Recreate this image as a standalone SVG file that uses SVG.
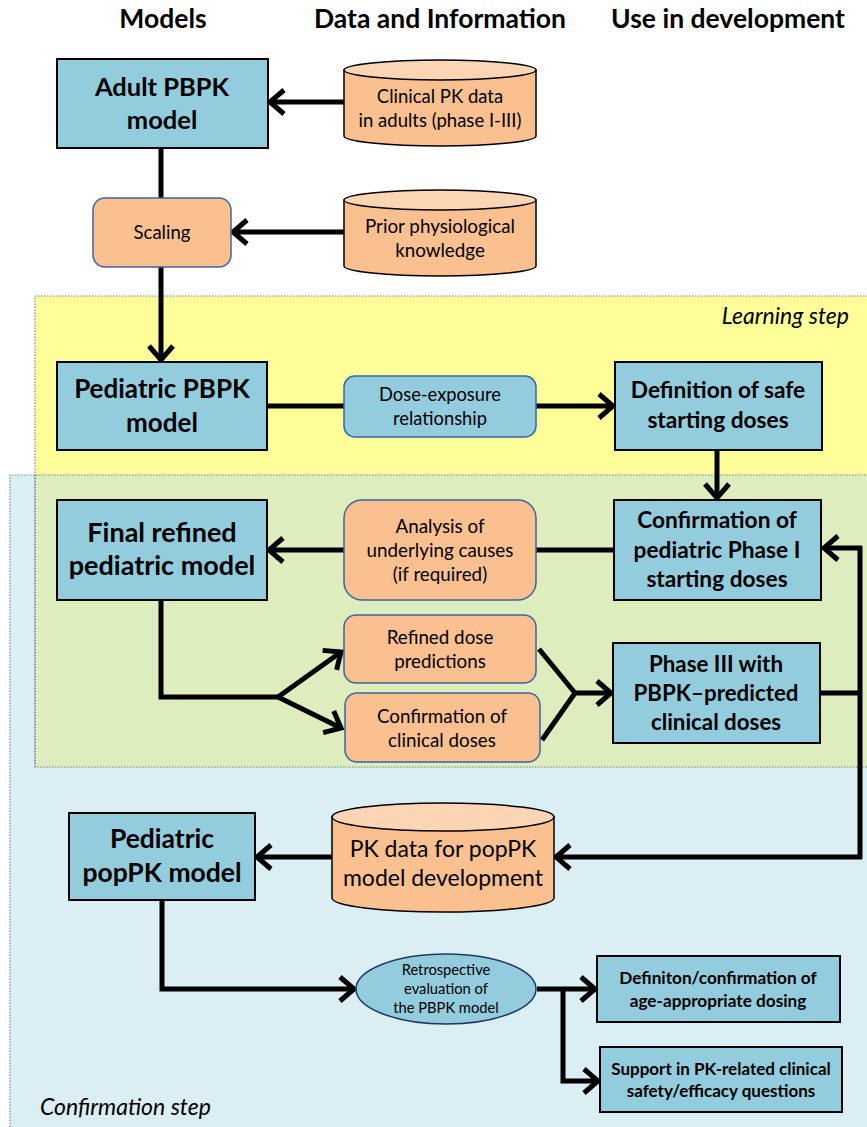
<svg xmlns="http://www.w3.org/2000/svg" width="867" height="1127" viewBox="0 0 867 1127">
<defs>
<style>
.hdr{font-family:Lato,"Liberation Sans",sans-serif;font-weight:bold;font-size:26.5px;fill:#000;text-anchor:middle}
.box{fill:#93cddd;stroke:#000;stroke-width:2}
.rb{fill:#93cddd;stroke:#3b64a0;stroke-width:1.5}
.ro{fill:#fac090;stroke:#3b64a0;stroke-width:1.5}
.cyl{fill:#fac090;stroke:#000;stroke-width:1.5}
.cyt{fill:#fcd5b5;stroke:#000;stroke-width:1.5}
.bt{font-family:Lato,"Liberation Sans",sans-serif;font-weight:bold;fill:#000;text-anchor:middle}
.nt{font-family:Lato,"Liberation Sans",sans-serif;fill:#000;text-anchor:middle}
.it{font-family:Lato,"Liberation Sans",sans-serif;font-style:italic;font-size:23px;fill:#000}
.c{fill:none;stroke:#000;stroke-width:5}
.ca{fill:none;stroke:#000;stroke-width:5;marker-end:url(#ah)}
</style>
<marker id="ah" markerUnits="userSpaceOnUse" viewBox="0 0 24 30" markerWidth="24" markerHeight="30" refX="20" refY="15" orient="auto">
<path d="M6,3 L20,15 L6,27" fill="none" stroke="#000" stroke-width="5"/>
</marker>
</defs>

<g id="regions">
<rect x="35" y="296" width="832" height="179" fill="#ffff99"/>
<rect x="10" y="475" width="857" height="652" fill="#dbeef3"/>
<rect x="35" y="475" width="832" height="293" fill="#ddedbe"/>
<path d="M35,767 V296 H867" fill="none" stroke="#6f88a8" stroke-width="1.2" stroke-dasharray="1.5,1.5"/>
<path d="M10,1127 V475 H867" fill="none" stroke="#6f88a8" stroke-width="1.2" stroke-dasharray="1.5,1.5"/>
<path d="M35,475 V767 H867" fill="none" stroke="#6f88a8" stroke-width="1.2" stroke-dasharray="1.5,1.5"/>
<text class="it" x="849" y="324" text-anchor="end">Learning step</text>
<text class="it" x="40" y="1115">Confirmation step</text>
</g>

<g id="headers">
<text class="hdr" x="163" y="28">Models</text>
<text class="hdr" x="440" y="28">Data and Information</text>
<text class="hdr" x="728" y="28">Use in development</text>
</g>

<g id="connectors">
<line class="ca" x1="344" y1="102" x2="270" y2="102"/>
<line class="c" x1="161" y1="148" x2="161" y2="198"/>
<line class="ca" x1="344" y1="232" x2="233" y2="232"/>
<line class="ca" x1="161" y1="267" x2="161" y2="360"/>
<line class="c" x1="267" y1="406" x2="344" y2="406" stroke-width="7"/>
<line class="ca" x1="536" y1="406" x2="613" y2="406" stroke-width="6"/>
<line class="ca" x1="717" y1="450" x2="717" y2="498"/>
<line class="c" x1="614" y1="550" x2="536" y2="550" stroke-width="7"/>
<line class="ca" x1="344" y1="550" x2="269" y2="550"/>
<polyline class="c" points="161,600 161,697 280,697"/>
<line class="ca" x1="278" y1="697" x2="341" y2="652"/>
<line class="ca" x1="278" y1="697" x2="341" y2="728"/>
<polyline class="c" points="539,649 575,693 542,740"/>
<line class="ca" x1="575" y1="693" x2="611" y2="693"/>
<line class="c" x1="820" y1="693" x2="860" y2="693"/>
<line class="c" x1="860" y1="546" x2="860" y2="859"/>
<line class="ca" x1="862" y1="548" x2="824" y2="548"/>
<line class="ca" x1="862" y1="857" x2="556" y2="857"/>
<line class="ca" x1="332" y1="857" x2="257" y2="857"/>
<polyline class="ca" points="162,900 162,989 354,989"/>
<line class="ca" x1="537" y1="989" x2="595" y2="989"/>
<polyline class="ca" points="563,989 563,1081 598,1081"/>
</g>

<g id="adult">
<rect class="box" x="57" y="59" width="211" height="89"/>
<text class="bt" font-size="25.5" x="162" y="96">Adult PBPK</text>
<text class="bt" font-size="25.5" x="162" y="129">model</text>
</g>

<g id="clinical-pk">
<path class="cyl" d="M344,70 V136 A96,10 0 0 0 536,136 V70 Z"/>
<ellipse class="cyt" cx="440" cy="70" rx="96" ry="10"/>
<text class="nt" font-size="18.5" x="440" y="103">Clinical PK data</text>
<text class="nt" font-size="18.5" x="440" y="127">in adults (phase I-III)</text>
</g>

<g id="scaling">
<rect class="ro" x="93" y="198" width="138" height="69" rx="12"/>
<text class="nt" font-size="18.5" x="162" y="239">Scaling</text>
</g>

<g id="prior">
<path class="cyl" d="M344,200 V266 A96,10 0 0 0 536,266 V200 Z"/>
<ellipse class="cyt" cx="440" cy="200" rx="96" ry="10"/>
<text class="nt" font-size="18.8" x="440" y="233">Prior physiological</text>
<text class="nt" font-size="18.8" x="440" y="257">knowledge</text>
</g>

<g id="pediatric-pbpk">
<rect class="box" x="57" y="362" width="210" height="88"/>
<text class="bt" font-size="26" x="162" y="398">Pediatric PBPK</text>
<text class="bt" font-size="26" x="162" y="432">model</text>
</g>

<g id="dose-exposure">
<rect class="rb" x="344" y="376" width="192" height="61" rx="11"/>
<text class="nt" font-size="18.3" x="440" y="401">Dose-exposure</text>
<text class="nt" font-size="18.3" x="440" y="425">relationship</text>
</g>

<g id="safe-doses">
<rect class="box" x="615" y="362" width="207" height="88"/>
<text class="bt" font-size="22.7" x="718" y="398">Definition of safe</text>
<text class="bt" font-size="22.7" x="718" y="428">starting doses</text>
</g>

<g id="final-refined">
<rect class="box" x="57" y="500" width="210" height="100"/>
<text class="bt" font-size="27" x="162" y="542">Final refined</text>
<text class="bt" font-size="27" x="162" y="575">pediatric model</text>
</g>

<g id="analysis">
<rect class="ro" x="344" y="500" width="192" height="100" rx="18"/>
<text class="nt" font-size="18.8" x="440" y="533">Analysis of</text>
<text class="nt" font-size="18.8" x="440" y="557">underlying causes</text>
<text class="nt" font-size="18.8" x="440" y="581">(if required)</text>
</g>

<g id="confirmation-phase1">
<rect class="box" x="614" y="500" width="207" height="100"/>
<text class="bt" font-size="22.7" x="717" y="528">Confirmation of</text>
<text class="bt" font-size="22.7" x="717" y="558">pediatric Phase I</text>
<text class="bt" font-size="22.7" x="717" y="587">starting doses</text>
</g>

<g id="refined-dose">
<rect class="ro" x="344" y="615" width="192" height="68" rx="12"/>
<text class="nt" font-size="18.8" x="440" y="644">Refined dose</text>
<text class="nt" font-size="18.8" x="440" y="668">predictions</text>
</g>

<g id="confirmation-clinical">
<rect class="ro" x="345" y="693" width="195" height="69" rx="12"/>
<text class="nt" font-size="18.8" x="442" y="723">Confirmation of</text>
<text class="nt" font-size="18.8" x="442" y="747">clinical doses</text>
</g>

<g id="phase3">
<rect class="box" x="613" y="643" width="207" height="100"/>
<text class="bt" font-size="22.3" x="716" y="672">Phase III with</text>
<text class="bt" font-size="22.3" x="716" y="701">PBPK–predicted</text>
<text class="bt" font-size="22.3" x="716" y="730">clinical doses</text>
</g>

<g id="pk-data">
<path class="cyl" d="M332,817 V898 A111,14 0 0 0 554,898 V817 Z"/>
<ellipse class="cyt" cx="443" cy="817" rx="111" ry="14"/>
<text class="nt" font-size="23" x="443" y="857">PK data for popPK</text>
<text class="nt" font-size="23" x="443" y="886">model development</text>
</g>

<g id="pediatric-poppk">
<rect class="box" x="69" y="813" width="186" height="87"/>
<text class="bt" font-size="26.5" x="162" y="848">Pediatric</text>
<text class="bt" font-size="26.5" x="162" y="882">popPK model</text>
</g>

<g id="retrospective">
<ellipse cx="446" cy="989" rx="90" ry="35" fill="#93cddd" stroke="#1f3864" stroke-width="1.5"/>
<text class="nt" font-size="14.7" x="446" y="975">Retrospective</text>
<text class="nt" font-size="14.7" x="446" y="994">evaluation of</text>
<text class="nt" font-size="14.7" x="446" y="1013">the PBPK model</text>
</g>

<g id="age-dosing">
<rect class="box" x="597" y="956" width="243" height="66"/>
<text class="bt" font-size="17.2" x="718" y="984">Definiton/confirmation of</text>
<text class="bt" font-size="17.2" x="718" y="1007">age-appropriate dosing</text>
</g>

<g id="support">
<rect class="box" x="600" y="1047" width="242" height="65"/>
<text class="bt" font-size="17" x="721" y="1075">Support in PK-related clinical</text>
<text class="bt" font-size="17" x="721" y="1097">safety/efficacy questions</text>
</g>
</svg>
